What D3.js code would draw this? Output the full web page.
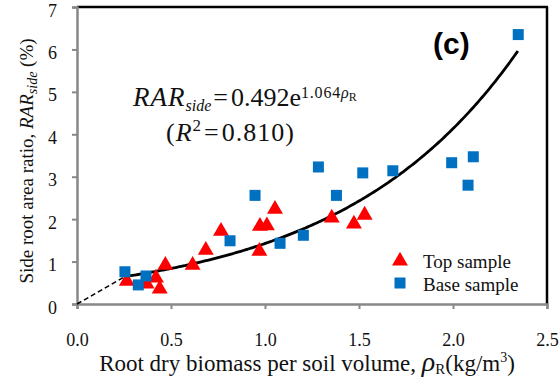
<!DOCTYPE html>
<html><head><meta charset="utf-8">
<script src="https://cdn.jsdelivr.net/npm/d3@7"></script>
<style>body{margin:0;background:#fff}svg{display:block}</style>
</head><body>
<svg id="c" width="559" height="379"></svg>
<script>
const topX = [0.265,0.37,0.42,0.44,0.47,0.615,0.685,0.766,0.97,0.973,1.01,1.053,1.355,1.473,1.53];
const topY = [0.56,0.5,0.64,0.38,0.94,0.94,1.29,1.74,1.27,1.86,1.87,2.26,2.05,1.91,2.12];
const baseX = [0.255,0.326,0.367,0.814,0.947,1.08,1.204,1.284,1.38,1.52,1.68,1.993,2.08,2.108,2.347];
const baseY = [0.76,0.45,0.66,1.49,2.56,1.43,1.62,3.23,2.56,3.09,3.14,3.33,2.8,3.47,6.35];
const xTicks = [0,0.5,1,1.5,2,2.5];
const yTicks = [0,1,2,3,4,5,6,7];
const fitA = 0.492, fitB = 1.064, fitStart = 0.255, fitEnd = 2.35;

const svg = d3.select("#c");
const x = d3.scaleLinear().domain([0,2.5]).range([77,547]);
const y = d3.scaleLinear().domain([0,7]).range([304,7]);
const serif = "'Liberation Serif','Times New Roman',serif";

// frame top/right
svg.append("line").attr("x1",x(0)).attr("x2",x(2.5)+1).attr("y1",y(7)).attr("y2",y(7)).attr("stroke","#000").attr("stroke-width",2.5);
svg.append("line").attr("x1",x(2.5)).attr("x2",x(2.5)).attr("y1",y(7)).attr("y2",y(0)).attr("stroke","#000").attr("stroke-width",2.5);

const gx = svg.append("g").attr("transform",`translate(0,${y(0)})`)
  .call(d3.axisBottom(x).tickValues(xTicks).tickFormat(d3.format(".1f")).tickSize(5).tickPadding(24));
const gy = svg.append("g").attr("transform",`translate(${x(0)},0)`)
  .call(d3.axisLeft(y).tickValues(yTicks).tickFormat(d3.format("d")).tickSize(5).tickPadding(15));
[gx,gy].forEach(g=>{
  g.attr("font-family",serif).attr("font-size",18);
  g.select(".domain").attr("stroke","#888").attr("stroke-width",2.5);
  g.selectAll(".tick line").attr("stroke","#888").attr("stroke-width",2);
  g.selectAll(".tick text").attr("font-family",serif).attr("font-size",18).attr("fill","#111");
});
gy.selectAll(".tick text").attr("dy","0.5em");

// fit curve
const line = d3.line().x(d=>x(d)).y(d=>y(fitA*Math.exp(fitB*d)));
const xs = d3.range(fitStart, fitEnd+0.0001, 0.01);
svg.append("path").attr("d",line(xs)).attr("fill","none").attr("stroke","#000").attr("stroke-width",2.8);
svg.append("line").attr("x1",x(0)).attr("y1",y(0)).attr("x2",x(fitStart)).attr("y2",y(fitA*Math.exp(fitB*fitStart)))
  .attr("stroke","#000").attr("stroke-width",1.5).attr("stroke-dasharray","5,3");

// points
const tri = d3.symbol().type(d3.symbolTriangle).size(110);
const topData = topX.map((v,i)=>[v,topY[i]]);
const baseData = baseX.map((v,i)=>[v,baseY[i]]);
svg.append("g").selectAll("path").data(topData).join("path")
  .attr("d",tri).attr("transform",d=>`translate(${x(d[0])},${y(d[1])+1})`).attr("fill","#ff0000");
svg.append("g").selectAll("rect").data(baseData).join("rect")
  .attr("x",d=>x(d[0])-5.5).attr("y",d=>y(d[1])-5.5).attr("width",11).attr("height",11).attr("fill","#0070c0");

// legend
svg.append("path").attr("d",tri).attr("transform","translate(400,261)").attr("fill","#ff0000");
svg.append("rect").attr("x",394.5).attr("y",277.5).attr("width",11).attr("height",11).attr("fill","#0070c0");
svg.append("text").attr("x",423).attr("y",268).attr("font-family",serif).attr("font-size",19).attr("fill","#111").text("Top sample");
svg.append("text").attr("x",423).attr("y",291).attr("font-family",serif).attr("font-size",19).attr("fill","#111").text("Base sample");

// (c)
svg.append("text").attr("x",433).attr("y",54).attr("font-family","'Liberation Sans',Arial,sans-serif").attr("font-weight","bold").attr("font-size",30).attr("fill","#000").text("(c)");

// equation
const eq = svg.append("text").attr("x",133).attr("y",106).attr("font-family",serif).attr("font-size",26).attr("fill","#111");
eq.append("tspan").attr("font-style","italic").attr("font-size",27).attr("letter-spacing",1).text("RAR");
eq.append("tspan").attr("font-style","italic").attr("font-size",16).attr("dy",5).text("side");
eq.append("tspan").attr("dy",-5).attr("dx",2).text("=");
eq.append("tspan").attr("dx",3).text("0.492e");
eq.append("tspan").attr("font-size",16).attr("letter-spacing",0.8).attr("dy",-8).text("1.064");
eq.append("tspan").attr("font-size",16).attr("font-style","italic").text("ρ");
eq.append("tspan").attr("font-size",12).attr("dy",3).text("R");
const eq2 = svg.append("text").attr("x",166).attr("y",141).attr("font-family",serif).attr("font-size",26).attr("letter-spacing",1).attr("fill","#111");
eq2.append("tspan").text("(");
eq2.append("tspan").attr("font-style","italic").text("R");
eq2.append("tspan").attr("font-size",17).attr("dy",-10).text("2");
eq2.append("tspan").attr("dy",10).attr("dx",2).text("=");
eq2.append("tspan").attr("dx",2).text("0.810)");

// axis titles
const xt = svg.append("text").attr("x",307).attr("y",371).attr("text-anchor","middle").attr("font-family",serif).attr("font-size",23).attr("fill","#111");
xt.append("tspan").text("Root dry biomass per soil volume, ");
xt.append("tspan").attr("font-style","italic").attr("font-size",28).text("ρ");
xt.append("tspan").attr("font-size",15).attr("dy",3).text("R");
xt.append("tspan").attr("dy",-3).text("(kg/m");
xt.append("tspan").attr("font-size",14).attr("dy",-9).text("3");
xt.append("tspan").attr("dy",9).text(")");

const yt = svg.append("text").attr("transform","translate(33,161) rotate(-90)").attr("text-anchor","middle").attr("font-family",serif).attr("font-size",19).attr("fill","#111");
yt.append("tspan").text("Side root area ratio, ");
yt.append("tspan").attr("font-style","italic").text("RAR");
yt.append("tspan").attr("font-style","italic").attr("font-size",14).attr("dy",4).text("side");
yt.append("tspan").attr("dy",-4).text(" (%)");
</script>
</body></html>
